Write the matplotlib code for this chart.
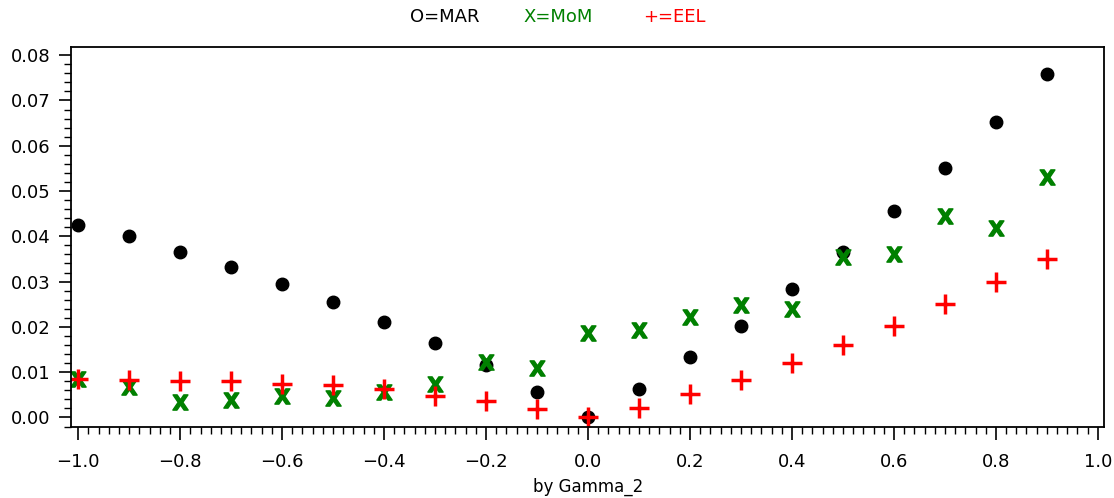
import matplotlib
matplotlib.use('Agg')
import matplotlib.pyplot as plt
import numpy as np
from matplotlib.ticker import MultipleLocator

gamma = [-1.0, -0.9, -0.8, -0.7, -0.6, -0.5, -0.4, -0.3, -0.2, -0.1,
         0.0, 0.1, 0.2, 0.3, 0.4, 0.5, 0.6, 0.7, 0.8, 0.9]
mar = [0.0425, 0.0400, 0.0365, 0.0333, 0.0295, 0.0255, 0.0210, 0.0165, 0.0115, 0.0057,
       0.0000, 0.0063, 0.0133, 0.0202, 0.0283, 0.0365, 0.0455, 0.0551, 0.0653, 0.0758]
mom = [0.0085, 0.0068, 0.0035, 0.0038, 0.0047, 0.0043, 0.0057, 0.0073, 0.0122, 0.0110,
       0.0187, 0.0193, 0.0222, 0.0248, 0.0240, 0.0355, 0.0360, 0.0445, 0.0418, 0.0530]
eel = [0.0085, 0.0083, 0.0080, 0.0080, 0.0075, 0.0072, 0.0062, 0.0048, 0.0037, 0.0018,
       0.0000, 0.0022, 0.0052, 0.0083, 0.0120, 0.0160, 0.0202, 0.0250, 0.0300, 0.0350]

fig = plt.figure(figsize=(11.14, 4.98), dpi=100)
ax = fig.add_axes([71/1114, 1 - 427/498, (1104-71)/1114, (427-47)/498])

ax.plot(gamma, mar, linestyle='none', marker='o', color='black', ms=9)
ax.plot(gamma, mom, linestyle='none', marker=r'$\mathbf{X}$', color='green', ms=11)
ax.plot(gamma, eel, linestyle='none', marker='+', color='red', ms=14, mew=2.5)

ax.set_xlim(-1.014, 1.012)
ax.set_ylim(-0.0021, 0.0818)
ax.xaxis.set_major_locator(MultipleLocator(0.2))
ax.xaxis.set_minor_locator(MultipleLocator(0.02))
ax.yaxis.set_major_locator(MultipleLocator(0.01))
ax.yaxis.set_minor_locator(MultipleLocator(0.002))
ax.xaxis.set_major_formatter(plt.FuncFormatter(lambda v, p: f'{v:.1f}'.replace('-', '\u2212') if abs(v) > 1e-9 else '0.0'))
ax.yaxis.set_major_formatter(plt.FuncFormatter(lambda v, p: f'{v:.2f}'))
ax.tick_params(axis='both', which='major', length=9, width=1.2, labelsize=13, color='black')
ax.tick_params(axis='x', which='major', pad=10)
ax.tick_params(axis='y', which='major', pad=6)
ax.tick_params(axis='both', which='minor', length=5, width=1.0)
for s in ax.spines.values():
    s.set_linewidth(1.3)

# x-axis label placed by hand so it stays inside the figure
fig.text(588/1114, 1 - 487/498, 'by Gamma_2', fontsize=12, ha='center', va='center')

fig.text(445/1114, 1 - 17/498, 'O=MAR', color='black', fontsize=13, ha='center', va='center')
fig.text(558/1114, 1 - 17/498, 'X=MoM', color='green', fontsize=13, ha='center', va='center')
fig.text(674/1114, 1 - 17/498, '+=EEL', color='red', fontsize=13, ha='center', va='center')

fig.savefig('out.png', dpi=100)
